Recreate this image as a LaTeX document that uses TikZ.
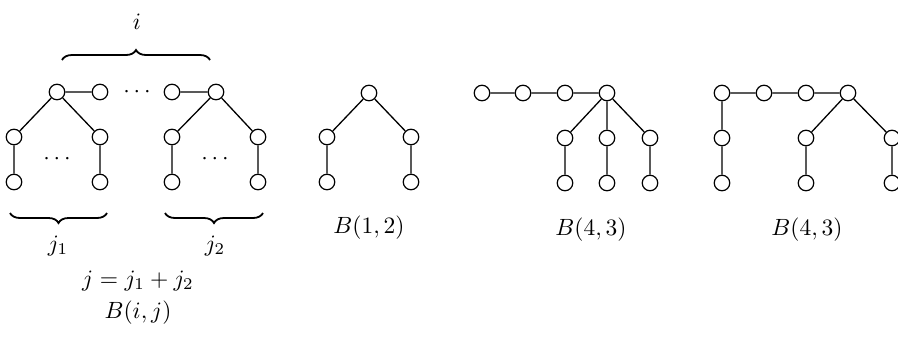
\documentclass[tikz,border=0pt]{standalone}
\usetikzlibrary{decorations.pathreplacing}
\begin{document}
\begin{tikzpicture}[x=1pt,y=-1pt,
  v/.style={circle,draw,line width=1.2pt,minimum size=15.5pt,inner sep=0pt,fill=white},
  e/.style={line width=1.3pt},
  lbl/.style={scale=2.35,inner sep=0pt},
  br/.style={decorate,decoration={brace,amplitude=10pt},line width=1.8pt}]
\useasboundingbox (0,0) rectangle (898,346);
\clip (0,0) rectangle (898,346);
% ---- B(i,j)
\node[v] (r1) at (57,92) {};
\node[v] (t2) at (100,92) {};
\node[v] (t3) at (172,92) {};
\node[v] (r2) at (216,92) {};
\node[v] (m1) at (14,137) {};
\node[v] (m2) at (100,137) {};
\node[v] (m3) at (172,137) {};
\node[v] (m4) at (258,137) {};
\node[v] (b1) at (14,182) {};
\node[v] (b2) at (100,182) {};
\node[v] (b3) at (172,182) {};
\node[v] (b4) at (258,182) {};
\draw[e] (r1)--(t2) (r1)--(m1) (r1)--(m2) (m1)--(b1) (m2)--(b2);
\draw[e] (t3)--(r2) (r2)--(m3) (r2)--(m4) (m3)--(b3) (m4)--(b4);
\node[lbl] (d1) at (137,92) {$\cdots$};
\node[lbl] (d2) at (57,159) {$\cdots$};
\node[lbl] (d3) at (215,159) {$\cdots$};
\coordinate (ti1) at (62,60);
\coordinate (ti2) at (210,60);
\draw[br] (ti1) -- (ti2);
\node[lbl] (li) at (137,22) {$i$};
\coordinate (bj1a) at (107,213);
\coordinate (bj1b) at (10,213);
\coordinate (bj2a) at (263,213);
\coordinate (bj2b) at (165,213);
\draw[br] (bj1a) -- (bj1b);
\draw[br] (bj2a) -- (bj2b);
\node[lbl] (lj1) at (58,246) {$j_1$};
\node[lbl] (lj2) at (215,246) {$j_2$};
\node[lbl] (lj) at (138,281) {$j=j_1+j_2$};
\node[lbl] (lB) at (138,313) {$B(i,j)$};
% ---- B(1,2)
\node[v] (p0) at (369,93) {};
\node[v] (p1) at (327,137) {};
\node[v] (p2) at (411,137) {};
\node[v] (p3) at (327,182) {};
\node[v] (p4) at (411,182) {};
\draw[e] (p0)--(p1) (p0)--(p2) (p1)--(p3) (p2)--(p4);
\node[lbl] (lB12) at (369,228) {$B(1,2)$};
% ---- B(4,3) first
\node[v] (q1) at (482,93) {};
\node[v] (q2) at (523,93) {};
\node[v] (q3) at (565,93) {};
\node[v] (q4) at (607,93) {};
\node[v] (q5) at (565,138) {};
\node[v] (q6) at (607,138) {};
\node[v] (q7) at (650,138) {};
\node[v] (q8) at (565,183) {};
\node[v] (q9) at (607,183) {};
\node[v] (q10) at (650,183) {};
\draw[e] (q1)--(q2) (q2)--(q3) (q3)--(q4) (q4)--(q5) (q4)--(q6) (q4)--(q7)
  (q5)--(q8) (q6)--(q9) (q7)--(q10);
\node[lbl] (lB43a) at (591,230) {$B(4,3)$};
% ---- B(4,3) second
\node[v] (s1) at (722,93) {};
\node[v] (s2) at (764,93) {};
\node[v] (s3) at (806,93) {};
\node[v] (s4) at (848,93) {};
\node[v] (s5) at (722,138) {};
\node[v] (s6) at (806,138) {};
\node[v] (s7) at (892,138) {};
\node[v] (s8) at (722,183) {};
\node[v] (s9) at (806,183) {};
\node[v] (s10) at (892,183) {};
\draw[e] (s1)--(s2) (s2)--(s3) (s3)--(s4) (s1)--(s5) (s5)--(s8)
  (s4)--(s6) (s4)--(s7) (s6)--(s9) (s7)--(s10);
\node[lbl] (lB43b) at (807,230) {$B(4,3)$};
\end{tikzpicture}
\end{document}
